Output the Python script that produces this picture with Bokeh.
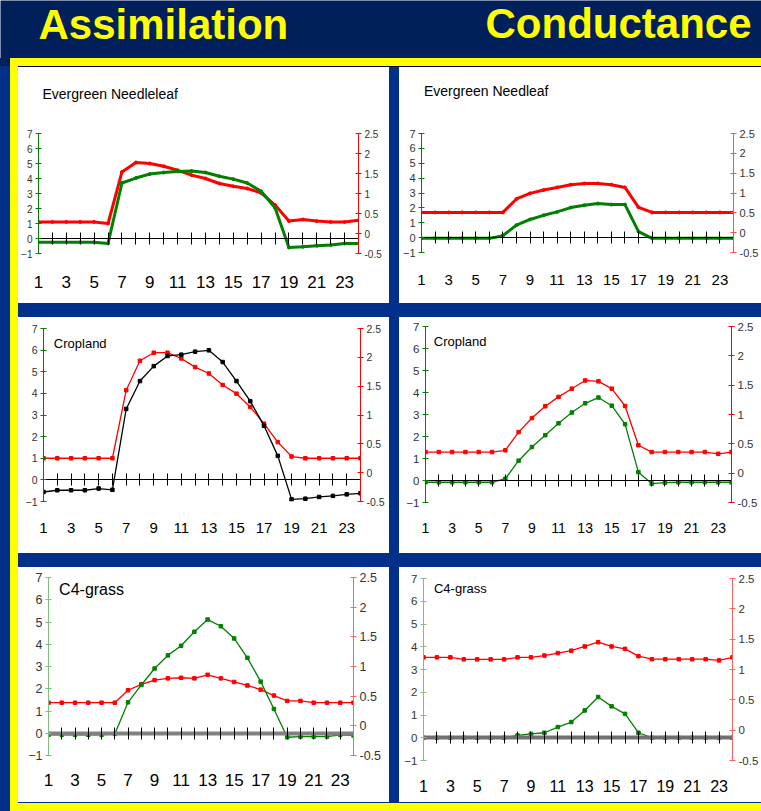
from bokeh.plotting import figure
from bokeh.models import Range1d, LinearAxis, FixedTicker, Label, Spacer, CustomJSTickFormatter
from bokeh.layouts import row, column
from bokeh.embed import file_html
from bokeh.resources import INLINE

FONT = "Liberation Sans"

hours = list(range(1, 25))
odd_hours = list(range(1, 24, 2))
left_ticks = [-1, 0, 1, 2, 3, 4, 5, 6, 7]
right_ticks = [-0.5, 0, 0.5, 1, 1.5, 2, 2.5]

slide_titles = ["Assimilation", "Conductance"]
panel_titles = ["Evergreen Needleleaf", "Evergreen Needleaf", "Cropland", "Cropland", "C4-grass", "C4-grass"]

# Evergreen Needleleaf - assimilation (left axis) / red series (right axis)
enf_assim_left = [-0.25, -0.25, -0.25, -0.25, -0.25, -0.33, 3.7, 4.03, 4.3, 4.4, 4.47, 4.5,
                  4.4, 4.15, 3.96, 3.7, 3.15, 2.05, -0.6, -0.55, -0.48, -0.44, -0.33, -0.33]
enf_assim_right = [0.29, 0.29, 0.29, 0.29, 0.29, 0.25, 1.54, 1.775, 1.75, 1.68, 1.58, 1.46,
                   1.375, 1.25, 1.18, 1.125, 1.017, 0.71, 0.31, 0.35, 0.31, 0.29, 0.29, 0.33]
# Evergreen Needleleaf - conductance
enf_cond_left = [-0.05, -0.05, -0.05, -0.05, -0.05, -0.05, 0.13, 0.84, 1.22, 1.5, 1.73, 2.02,
                 2.18, 2.29, 2.22, 2.22, 0.4, -0.05, -0.05, -0.05, -0.05, -0.05, -0.05, -0.05]
enf_cond_right = [0.51, 0.51, 0.51, 0.51, 0.51, 0.51, 0.51, 0.85, 0.99, 1.075, 1.14, 1.21,
                  1.24, 1.24, 1.21, 1.14, 0.64, 0.51, 0.51, 0.51, 0.51, 0.51, 0.51, 0.51]
# Cropland - assimilation
crop_assim_left = [-0.56, -0.48, -0.48, -0.48, -0.4, -0.46, 3.28, 4.57, 5.26, 5.73, 5.79, 5.93,
                   5.99, 5.45, 4.57, 3.64, 2.5, 1.11, -0.9, -0.87, -0.79, -0.74, -0.67, -0.62]
crop_assim_right = [0.25, 0.25, 0.25, 0.25, 0.25, 0.25, 1.43, 1.94, 2.08, 2.08, 1.98, 1.83,
                    1.72, 1.52, 1.37, 1.14, 0.85, 0.53, 0.28, 0.25, 0.25, 0.25, 0.25, 0.25]
# Cropland - conductance
crop_cond_left = [-0.08, -0.08, -0.08, -0.08, -0.08, -0.08, 0.08, 0.9, 1.52, 2.06, 2.6, 3.09,
                  3.51, 3.77, 3.4, 2.56, 0.38, -0.14, -0.1, -0.08, -0.08, -0.08, -0.08, -0.08]
crop_cond_right = [0.36, 0.36, 0.36, 0.36, 0.36, 0.36, 0.39, 0.70, 0.94, 1.14, 1.3, 1.44,
                   1.58, 1.565, 1.44, 1.145, 0.476, 0.36, 0.36, 0.36, 0.36, 0.36, 0.33, 0.36]
# C4-grass - assimilation
c4_assim_left = [-0.07, -0.07, -0.07, -0.07, -0.07, -0.03, 1.39, 2.17, 2.91, 3.5, 3.93, 4.56,
                 5.11, 4.81, 4.26, 3.39, 2.32, 1.09, -0.18, -0.15, -0.15, -0.15, -0.07, -0.1]
c4_assim_right = [0.39, 0.39, 0.39, 0.39, 0.39, 0.39, 0.6, 0.7, 0.77, 0.8, 0.81, 0.8,
                  0.86, 0.8, 0.74, 0.68, 0.61, 0.51, 0.42, 0.42, 0.39, 0.39, 0.39, 0.39]
# C4-grass - conductance
c4_cond_left = [0, 0, 0, 0, 0, 0, 0, 0.1, 0.17, 0.22, 0.47, 0.69,
                1.2, 1.79, 1.38, 1.05, 0.22, 0, 0, 0, 0, 0, 0, 0]
c4_cond_right = [1.2, 1.2, 1.2, 1.167, 1.167, 1.167, 1.167, 1.2, 1.2, 1.23, 1.27, 1.31,
                 1.38, 1.45, 1.38, 1.34, 1.22, 1.17, 1.17, 1.17, 1.17, 1.17, 1.15, 1.2]

TOP_BG = "#001f5b"
BODY_BG = "#00308a"
YELLOW = "#ffff00"


def block(w, h, color):
    return Spacer(width=w, height=h, styles={"background-color": color})


def plain_fig(w, h, bg, left=0, right=0):
    f = figure(width=w, height=h, x_range=Range1d(0, w - left - right), y_range=Range1d(0, h),
               output_backend="svg", toolbar_location=None, min_border=0,
               min_border_left=left, min_border_right=right,
               x_axis_location=None, y_axis_location=None, title=None)
    f.grid.visible = False
    f.background_fill_color = bg
    f.border_fill_color = bg
    f.outline_line_color = None
    return f


def title_fig(w, h, left, right, text, x, y_from_top, size):
    # frame is aligned with the chart below it (same left/right borders)
    f = plain_fig(w, h, "white", left, right)
    f.add_layout(Label(x=x, y=h - y_from_top, text=text, text_font=FONT,
                       text_font_size=f"{size}px", text_color="black",
                       text_baseline="middle", text_align="left"))
    return f


def panel(w, h, borders, title, tpos, tsize, left_vals, left_line_color, right_vals,
          lw, msize, marker, xfont, xstand, yfont,
          zero_color="black", zero_width=1, laxis="#008000", raxis="#ff0000"):
    l, r, t, b = borders
    p = figure(width=w, height=h, x_range=Range1d(1, 24), y_range=Range1d(-1, 7),
               output_backend="svg", toolbar_location=None, title=None,
               min_border_left=l, min_border_right=r, min_border_top=t, min_border_bottom=b)
    p.extra_y_ranges = {"r": Range1d(-0.5, 2.5)}
    p.background_fill_color = "white"
    p.border_fill_color = "white"
    p.outline_line_color = None
    p.grid.visible = False

    xa = p.xaxis[0]
    xa.ticker = FixedTicker(ticks=odd_hours)
    xa.axis_line_color = None
    xa.major_tick_line_color = None
    xa.minor_tick_line_color = None
    xa.major_tick_in = 0
    xa.major_tick_out = 0
    xa.major_label_standoff = xstand
    xa.major_label_text_font_size = f"{xfont}px"
    xa.major_label_text_font = FONT
    xa.major_label_text_color = "black"

    ya = p.yaxis[0]
    ya.ticker = FixedTicker(ticks=left_ticks)
    ya.axis_line_color = laxis
    ya.major_tick_line_color = laxis
    ya.minor_tick_line_color = None
    ya.major_tick_in = 3
    ya.major_tick_out = 3
    ya.major_label_standoff = 3
    ya.major_label_text_font_size = f"{yfont}px"
    ya.major_label_text_font = FONT
    ya.major_label_text_color = "#333333"

    ra = LinearAxis(y_range_name="r", ticker=FixedTicker(ticks=right_ticks),
                    formatter=CustomJSTickFormatter(code="return tick.toString();"),
                    axis_line_color=raxis, major_tick_line_color=raxis,
                    minor_tick_line_color=None, major_tick_in=3, major_tick_out=3,
                    major_label_standoff=3, major_label_text_font_size=f"{yfont}px",
                    major_label_text_font=FONT, major_label_text_color="#333333")
    p.add_layout(ra, "right")

    za = LinearAxis(fixed_location=0, ticker=FixedTicker(ticks=hours),
                    major_label_overrides={hh: "" for hh in hours},
                    major_label_text_font_size="1px", major_label_standoff=0,
                    axis_line_color=zero_color, axis_line_width=zero_width,
                    major_tick_line_color="black", minor_tick_line_color=None,
                    major_tick_in=6, major_tick_out=6)
    p.add_layout(za, "above")

    p.line(hours, right_vals, y_range_name="r", line_color="#ff0000", line_width=lw)
    p.scatter(hours, right_vals, y_range_name="r", marker=marker, size=msize,
              color="#ff0000")
    p.line(hours, left_vals, line_color=left_line_color, line_width=lw)
    p.scatter(hours, left_vals, marker=marker, size=msize, color=left_line_color)

    if title is not None:
        p.add_layout(Label(x=tpos[0], y=tpos[1], text=title, text_font=FONT,
                           text_font_size=f"{tsize}px", text_color="black",
                           text_baseline="middle", text_align="left"))
    return p


t1 = title_fig(371, 60, 19, 31, panel_titles[0], 4, 26, 14)
p1 = panel(371, 176, (19, 31, 6, 50), None, None, 14,
           enf_assim_left, "#008000", enf_assim_right, 3, 3, "circle", 17, 22, 10)
t2 = title_fig(362, 60, 20, 25, panel_titles[1], 2.5, 23, 14)
p2 = panel(362, 176, (20, 25, 6, 51), None, None, 14,
           enf_cond_left, "#008000", enf_cond_right, 3, 3, "circle", 15, 22, 11,
           raxis="#ff5050")
p3 = panel(371, 236, (25, 29, 11, 52), panel_titles[2], (1.75, 6.3), 13,
           crop_assim_left, "black", crop_assim_right, 1.3, 3.5, "square", 15, 21, 10.5)
p4 = panel(362, 236, (26, 30, 9, 51), panel_titles[3], (1.62, 6.32), 13,
           crop_cond_left, "#008000", crop_cond_right, 1.3, 3.5, "square", 14, 20, 11.5)
p5 = panel(371, 235, (30, 36, 10, 47), panel_titles[4], (1.8, 6.46), 16,
           c4_assim_left, "#008000", c4_assim_right, 1.3, 3.5, "square", 17, 18, 12.5,
           zero_color="#808080", zero_width=4, laxis="#7fbf7f", raxis="#ff6060")
p6 = panel(362, 235, (24, 23, 11, 42), panel_titles[5], (1.78, 6.58), 13,
           c4_cond_left, "#008000", c4_cond_right, 1.3, 3.5, "square", 16, 19, 11.5,
           zero_color="#707070", zero_width=4, laxis="#7fbf7f", raxis="#ff6060")

header = plain_fig(761, 58, TOP_BG)
header.add_layout(Label(x=38, y=34, text=slide_titles[0], text_font=FONT,
                        text_font_style="bold", text_font_size="42px",
                        text_color=YELLOW, text_baseline="middle"))
header.add_layout(Label(x=485, y=34.7, text=slide_titles[1], text_font=FONT,
                        text_font_style="bold", text_font_size="42px",
                        text_color=YELLOW, text_baseline="middle"))

grid = column(
    block(743, 1, "#000000"),
    row(column(t1, p1), block(10, 236, BODY_BG), column(t2, p2)),
    block(743, 14, BODY_BG),
    row(column(p3), block(10, 236, BODY_BG), column(p4)),
    block(743, 14, BODY_BG),
    row(column(p5), block(10, 235, BODY_BG), column(p6)),
    block(743, 1, BODY_BG),
)

layout = column(
    header,
    row(block(10, 8, TOP_BG), block(751, 8, YELLOW)),
    row(block(10, 737, BODY_BG), block(8, 737, YELLOW), grid),
    row(block(10, 8, BODY_BG), block(751, 8, YELLOW)),
)

open("out.html", "w").write(file_html(layout, INLINE))
